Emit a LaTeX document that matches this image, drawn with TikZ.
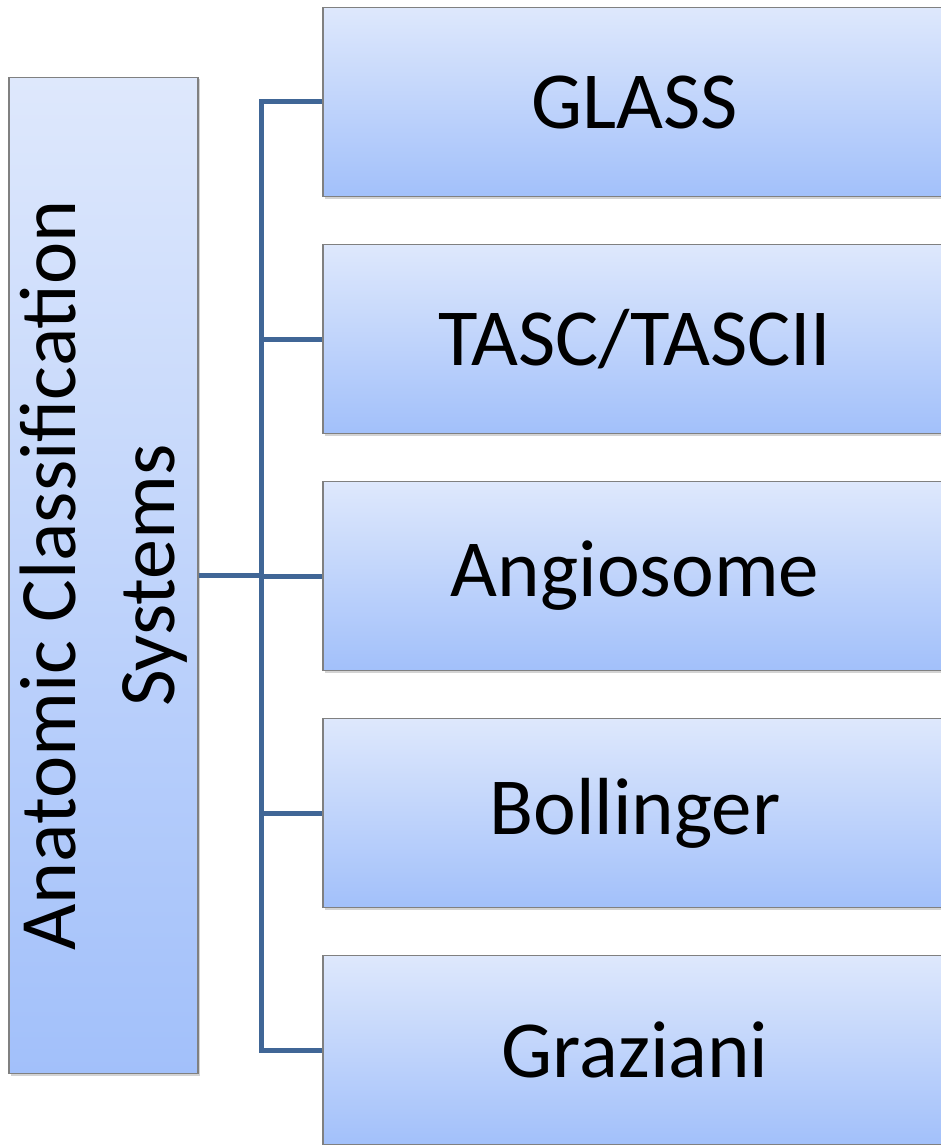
\documentclass[tikz,border=0pt]{standalone}
\usepackage{fontspec}
\setmainfont{Carlito}
\usetikzlibrary{shadows}
\definecolor{topc}{RGB}{222,232,252}
\definecolor{botc}{RGB}{162,192,250}
\definecolor{linec}{RGB}{64,102,150}
\definecolor{edgec}{RGB}{128,128,128}
\newcommand\shiftedlabel[1]{\hspace*{-36pt}#1}
\begin{document}
\begin{tikzpicture}[x=1pt,y=-1pt,
  box/.style={draw=edgec, line width=1.2pt, top color=topc, bottom color=botc,
    inner sep=0pt, font=\fontsize{81}{98}\selectfont,
    drop shadow={shadow xshift=1.5pt, shadow yshift=-2pt, opacity=0.35}},
  rbox/.style={box, minimum width=660pt, minimum height=189pt},
  conn/.style={linec, line width=5pt, line join=miter}]
\useasboundingbox (0,0) rectangle (940,1145);
\node[box, rotate=90, minimum width=996pt, minimum height=189pt, align=center,
  font=\fontsize{80}{99}\selectfont] (L) at (103.5,575.5) {Anatomic Classification\\Systems};
\node[rbox] (g1) at (653,102) {\shiftedlabel{GLASS}};
\node[rbox] (g2) at (653,339) {\shiftedlabel{TASC/TASCII}};
\node[rbox] (g3) at (653,576) {\shiftedlabel{Angiosome}};
\node[rbox] (g4) at (653,813) {\shiftedlabel{Bollinger}};
\node[rbox] (g5) at (653,1050) {\shiftedlabel{Graziani}};
\coordinate (sp) at (261,576);
\draw[conn] (g1.west) -- (g1.west -| sp) -- (g5.west -| sp) -- (g5.west);
\draw[conn] (L.south) -- (L.south -| sp);
\draw[conn] (g2.west -| sp) -- (g2.west);
\draw[conn] (g3.west -| sp) -- (g3.west);
\draw[conn] (g4.west -| sp) -- (g4.west);
\end{tikzpicture}
\end{document}
